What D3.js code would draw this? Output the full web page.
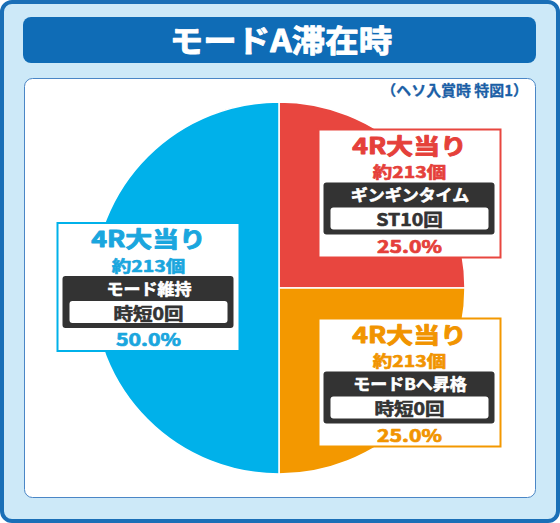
<!DOCTYPE html>
<html>
<head>
<meta charset="utf-8">
<script src="https://cdn.jsdelivr.net/npm/d3@7"></script>
<style>
  html, body { margin: 0; padding: 0; background: #fff; }
  text { font-family: "Noto Sans CJK JP", "Noto Sans", sans-serif; font-weight: 700; stroke-linejoin: round; }
</style>
</head>
<body>
<div id="chart"></div>
<script>
// Chart data
const title = "モードA滞在時";
const subtitle = "（ヘソ入賞時 特図1）";
const categories = ["ギンギンタイム", "モードBへ昇格", "モード維持"];
const shares = [25, 25, 50];
const rounds = ["4R大当り", "4R大当り", "4R大当り"];
const payouts = ["約213個", "約213個", "約213個"];
const spins = ["ST10回", "時短0回", "時短0回"];

const width = 560, height = 523;
const cx = 279, cy = 288, radius = 186;

const sliceColor = d3.scaleOrdinal()
  .domain(categories)
  .range(["#e8463f", "#f39800", "#00b1ea"]);
const textColor = d3.scaleOrdinal()
  .domain(categories)
  .range(["#e5403a", "#f19400", "#1aa6de"]);

const data = categories.map((c, i) => ({
  category: c, share: shares[i], round: rounds[i], payout: payouts[i], spin: spins[i]
}));

const svg = d3.select("#chart")
  .append("svg")
  .attr("width", width)
  .attr("height", height);

// stretch text horizontally to mimic the wide font, and thicken it a bit
function stretch(sel, k, sw) {
  sel.each(function () {
    const t = d3.select(this);
    const w = this.getComputedTextLength();
    t.attr("textLength", w * k).attr("lengthAdjust", "spacingAndGlyphs")
      .attr("stroke", t.attr("fill"))
      .attr("stroke-width", sw);
  });
}

// Outer frame
svg.append("rect")
  .attr("x", 2).attr("y", 2)
  .attr("width", width - 4).attr("height", height - 4)
  .attr("rx", 10)
  .attr("fill", "#cde9f8")
  .attr("stroke", "#1a6fb7")
  .attr("stroke-width", 4);

// Title bar
svg.append("rect")
  .attr("x", 23).attr("y", 17)
  .attr("width", 513).attr("height", 46)
  .attr("rx", 8)
  .attr("fill", "#0f6cb6");

svg.append("text")
  .attr("x", 281).attr("y", 52)
  .attr("text-anchor", "middle")
  .attr("fill", "#fff")
  .style("font-size", "31px")
  .text(title)
  .call(stretch, 1.08, 0.9);

// Inner panel
svg.append("rect")
  .attr("x", 24.5).attr("y", 78.5)
  .attr("width", 511).attr("height", 419)
  .attr("rx", 8)
  .attr("fill", "#fff")
  .attr("stroke", "#4a86c6")
  .attr("stroke-width", 1);

svg.append("text")
  .attr("x", 528).attr("y", 96)
  .attr("text-anchor", "end")
  .attr("fill", "#1b5fa6")
  .style("font-size", "14.5px")
  .text(subtitle)
  .call(stretch, 1.03, 0.3);

// Pie
const pie = d3.pie().sort(null).value(d => d.share);
const arc = d3.arc().innerRadius(0).outerRadius(radius);
const arcs = pie(data);

const g = svg.append("g").attr("transform", `translate(${cx},${cy})`);

g.selectAll("path")
  .data(arcs)
  .join("path")
  .attr("d", arc)
  .attr("fill", d => sliceColor(d.data.category))
  .attr("stroke", "#fff")
  .attr("stroke-width", 1.5);

// Label boxes
const boxW = 184, boxH = 130;
const labelArc = d3.arc().innerRadius(radius / 2).outerRadius(radius / 2);

const boxes = g.selectAll("g.box")
  .data(arcs)
  .join("g")
  .attr("class", "box")
  .attr("transform", d => {
    const c = labelArc.centroid(d);
    const dx = Math.abs(c[0]) > 1 ? Math.sign(c[0]) * 130.5 : 0;
    const dy = Math.abs(c[1]) > 1 ? Math.sign(c[1]) * 94.5 : -1;
    return `translate(${dx - boxW / 2},${dy - boxH / 2})`;
  });

boxes.append("rect")
  .attr("x", 1).attr("y", 1)
  .attr("width", boxW - 2).attr("height", boxH - 2)
  .attr("fill", "#fff")
  .attr("stroke", d => sliceColor(d.data.category))
  .attr("stroke-width", 2);

boxes.append("text")
  .attr("x", boxW / 2).attr("y", 25)
  .attr("text-anchor", "middle")
  .attr("fill", d => textColor(d.data.category))
  .style("font-size", "22px")
  .text(d => d.data.round)
  .call(stretch, 1.22, 0.9);

boxes.append("text")
  .attr("x", boxW / 2).attr("y", 49.5)
  .attr("text-anchor", "middle")
  .attr("fill", d => textColor(d.data.category))
  .style("font-size", "16px")
  .text(d => d.data.payout)
  .call(stretch, 1.22, 0.6);

boxes.append("rect")
  .attr("x", 6).attr("y", 54)
  .attr("width", 171).attr("height", 52)
  .attr("rx", 3)
  .attr("fill", "#333");

boxes.append("text")
  .attr("x", boxW / 2 + 0.5).attr("y", 72.5)
  .attr("text-anchor", "middle")
  .attr("fill", "#fff")
  .style("font-size", "16px")
  .text(d => d.data.category)
  .call(stretch, 1.06, 0.6);

boxes.append("rect")
  .attr("x", 13).attr("y", 79)
  .attr("width", 158).attr("height", 22)
  .attr("rx", 3)
  .attr("fill", "#fff");

boxes.append("text")
  .attr("x", boxW / 2).attr("y", 97.5)
  .attr("text-anchor", "middle")
  .attr("fill", "#333")
  .style("font-size", "17px")
  .text(d => d.data.spin)
  .call(stretch, 1.15, 0.6);

boxes.append("text")
  .attr("x", boxW / 2).attr("y", 124)
  .attr("text-anchor", "middle")
  .attr("fill", d => textColor(d.data.category))
  .style("font-size", "17px")
  .text(d => d3.format(".1f")(d.data.share) + "%")
  .call(stretch, 1.25, 0.7);
</script>
</body>
</html>
